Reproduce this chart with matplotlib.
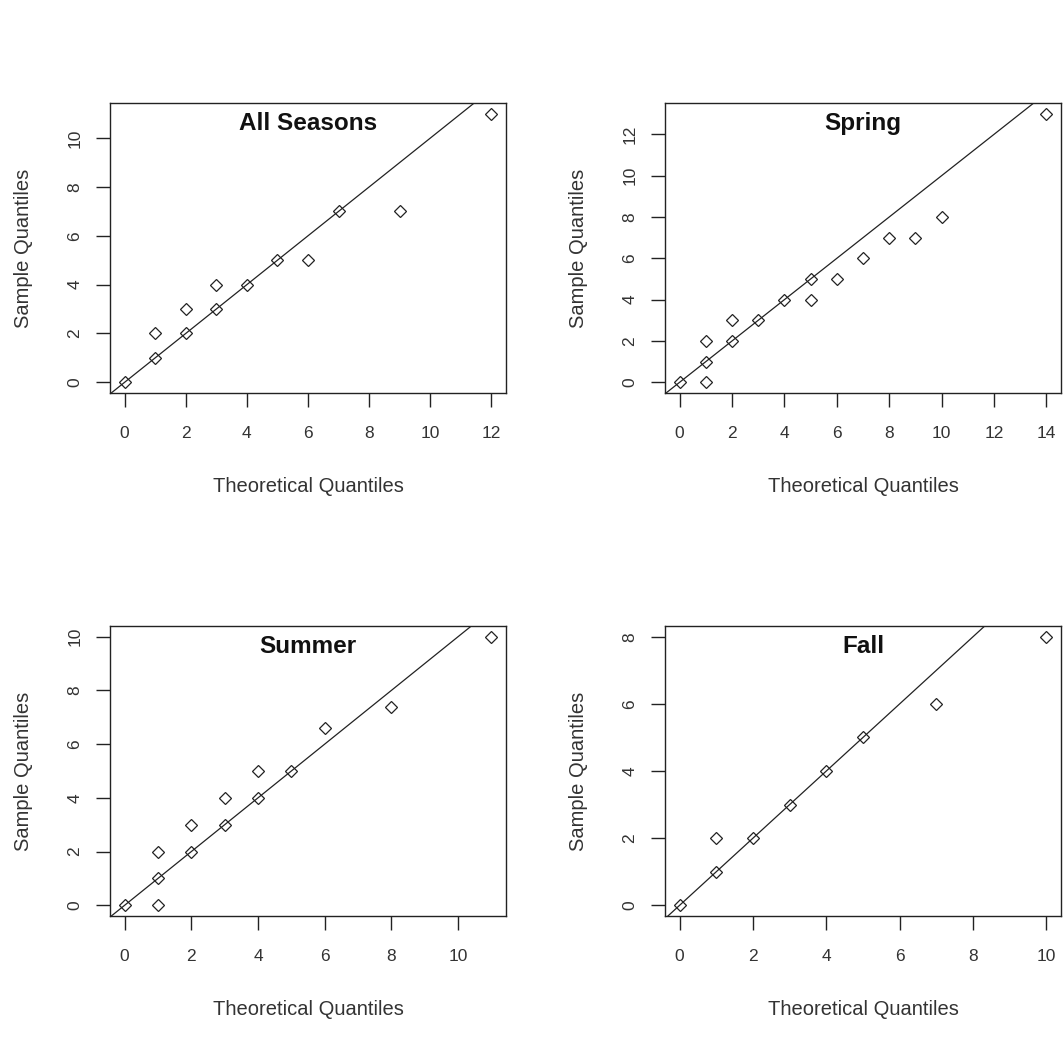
import matplotlib
matplotlib.use("Agg")
import matplotlib.pyplot as plt
import numpy as np

plt.rcParams['font.family'] = ['Liberation Sans', 'DejaVu Sans']

# 季節ごとの Q-Q プロット (理論分位点 vs 標本分位点)
titles = ["All Seasons", "Spring", "Summer", "Fall"]

all_x = [0, 1, 1, 2, 2, 3, 3, 4, 5, 6, 7, 9, 12]
all_y = [0, 1, 2, 2, 3, 3, 4, 4, 5, 5, 7, 7, 11]
spring_x = [0, 1, 1, 1, 2, 2, 3, 4, 5, 5, 6, 7, 8, 9, 10, 14]
spring_y = [0, 0, 1, 2, 2, 3, 3, 4, 4, 5, 5, 6, 7, 7, 8, 13]
summer_x = [0, 1, 1, 1, 2, 2, 3, 3, 4, 4, 5, 6, 8, 11]
summer_y = [0, 0, 1, 2, 2, 3, 3, 4, 4, 5, 5, 6.6, 7.4, 10]
fall_x = [0, 1, 1, 2, 3, 4, 5, 7, 10]
fall_y = [0, 1, 2, 2, 3, 4, 5, 6, 8]

# 参照線 y = a + b x
line_a = [0, 0, 0, 0]
line_b = [1, 1, 1, 1]

xticks = [np.arange(0, 13, 2), np.arange(0, 15, 2), np.arange(0, 11, 2), np.arange(0, 11, 2)]
yticks = [np.arange(0, 11, 2), np.arange(0, 13, 2), np.arange(0, 11, 2), np.arange(0, 9, 2)]

data = [(all_x, all_y), (spring_x, spring_y), (summer_x, summer_y), (fall_x, fall_y)]

W, H = 1063, 1047
fig = plt.figure(figsize=(W / 100, H / 100), dpi=100)
# 各パネルの左端・下端 (px)
boxes = [(110, 393), (665, 393), (110, 916), (665, 916)]

col = "#222222"
for i, (xs, ys) in enumerate(data):
    l, b = boxes[i]
    ax = fig.add_axes([l / W, 1 - b / H, 396 / W, 290 / H])
    xs = np.array(xs, dtype=float)
    ys = np.array(ys, dtype=float)
    ax.plot(xs, ys, linestyle="none", marker="D", markersize=6,
            markerfacecolor="none", markeredgecolor=col, markeredgewidth=0.9)
    ax.axline((0, line_a[i]), slope=line_b[i], color=col, lw=0.9)

    # R 風の 4% 余白
    rx = xs.max() - xs.min()
    ry = ys.max() - ys.min()
    ax.set_xlim(xs.min() - 0.04 * rx, xs.max() + 0.04 * rx)
    ax.set_ylim(ys.min() - 0.04 * ry, ys.max() + 0.04 * ry)
    ax.set_xticks(xticks[i])
    ax.set_yticks(yticks[i])
    ax.tick_params(axis="both", direction="out", length=10, width=1.0,
                   color=col, labelcolor="#333333", labelsize=12.5)
    ax.tick_params(axis="x", pad=14)
    ax.tick_params(axis="y", pad=10)
    for lab in ax.get_yticklabels():
        lab.set_rotation(90)
        lab.set_va("center")
    for s in ax.spines.values():
        s.set_color(col)
        s.set_linewidth(1.0)

    ax.set_xlabel("Theoretical Quantiles", fontsize=14.5, color="#333333")
    ax.set_ylabel("Sample Quantiles", fontsize=14.5, color="#333333")
    ax.xaxis.set_label_coords(0.5, -0.29)
    ax.yaxis.set_label_coords(-0.195, 0.5)
    ax.text(0.5, 0.93, titles[i], transform=ax.transAxes, ha="center",
            va="center", fontsize=17.5, fontweight="bold", color="#111111")

fig.savefig("out.png", dpi=100)
